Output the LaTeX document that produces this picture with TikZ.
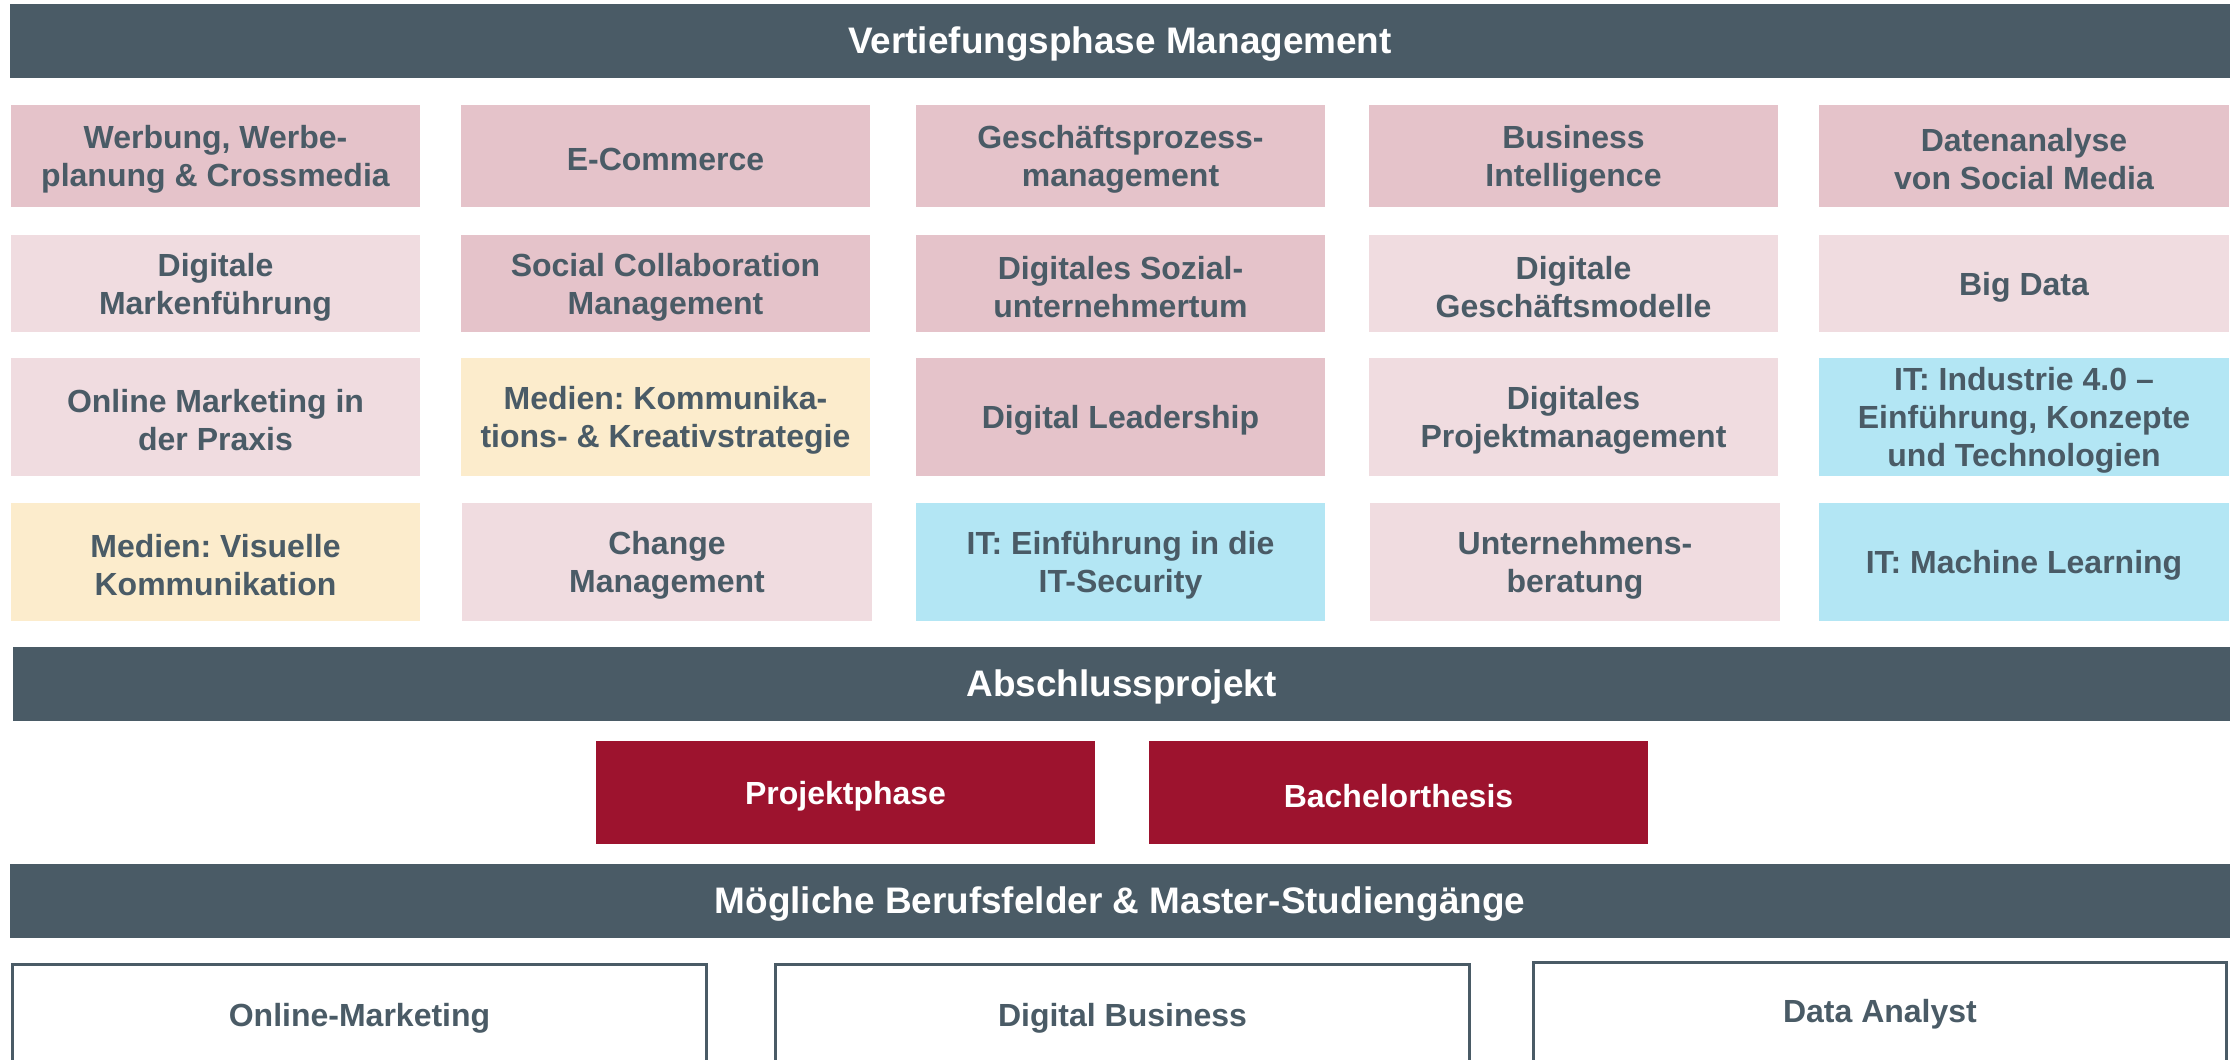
\documentclass[tikz,border=0pt]{standalone}
\usepackage{fontspec}
\setmainfont{Liberation Sans}
\frenchspacing
\definecolor{slate}{HTML}{4A5B66}
\definecolor{pinkD}{HTML}{E5C3CA}
\definecolor{pinkL}{HTML}{F0DCE0}
\definecolor{cream}{HTML}{FCECCC}
\definecolor{sky}{HTML}{B3E6F4}
\definecolor{crimson}{HTML}{9D132E}
\begin{document}
\begin{tikzpicture}[x=0.01cm,y=-0.01cm,
  bar/.style={fill=slate, inner sep=0pt, minimum height=0.74cm},
  bartext/.style={text=white, inner sep=0pt, font=\bfseries\fontsize{10.5pt}{12pt}\selectfont},
  tile/.style={inner sep=0pt, minimum width=4.09cm},
  tiletext/.style={inner sep=0pt, align=center, text=slate,
    font=\bfseries\fontsize{9.1pt}{10.8pt}\selectfont},
  rowa/.style={tile, minimum height=1.02cm},
  rowb/.style={tile, minimum height=0.97cm},
  rowc/.style={tile, minimum height=1.18cm},
  redbox/.style={fill=crimson, inner sep=0pt, minimum width=4.99cm, minimum height=1.03cm},
  redtext/.style={text=white, inner sep=0pt, font=\bfseries\fontsize{9.1pt}{10.8pt}\selectfont},
  outbox/.style={draw=slate, line width=0.03cm, fill=white, inner sep=0pt,
    minimum width=6.94cm, minimum height=1.6cm, anchor=north},
  lbl/.style={text=slate, inner sep=0pt, font=\bfseries\fontsize{9.1pt}{10.8pt}\selectfont}
]
\def\dy{-0.033cm}
\useasboundingbox (0,0) rectangle (2232,1059);
\clip (0,0) rectangle (2232,1059);

% header bars
\node[bar, minimum width=22.18cm] (hTop) at (1120,41) {};
\node[bar, minimum width=22.15cm] (hAbs) at (1121.5,684) {};
\node[bar, minimum width=22.18cm] (hBer) at (1120,901) {};
\node[bartext] (hTopT) at ([yshift=\dy]hTop.center) {Vertiefungsphase Management};
\node[bartext] (hAbsT) at ([yshift=\dy]hAbs.center) {Abschlussprojekt};
\node[bartext] (hBerT) at ([yshift=\dy]hBer.center) {Mögliche Berufsfelder \& Master-Studiengänge};

% row 1
\node[rowa, fill=pinkD] (r1a) at (215.5,156) {};
\node[rowa, fill=pinkD] (r1b) at (665.5,156) {};
\node[rowa, fill=pinkD] (r1c) at (1120.5,156) {};
\node[rowa, fill=pinkD] (r1d) at (1573.5,156) {};
\node[rowa, fill=pinkD] (r1e) at (2024,156) {};
\node[tiletext] (r1aT) at ([yshift=\dy]r1a.center) {Werbung, Werbe-\\planung \& Crossmedia};
\node[tiletext] (r1bT) at ([yshift=\dy]r1b.center) {E-Commerce};
\node[tiletext] (r1cT) at ([yshift=\dy]r1c.center) {Geschäftsprozess-\\management};
\node[tiletext] (r1dT) at ([yshift=\dy]r1d.center) {Business\\Intelligence};
\node[tiletext] (r1eT) at ([yshift=\dy]r1e.center) {Datenanalyse\\von Social Media};

% row 2
\node[rowb, fill=pinkL] (r2a) at (215.5,283.5) {};
\node[rowb, fill=pinkD] (r2b) at (665.5,283.5) {};
\node[rowb, fill=pinkD] (r2c) at (1120.5,283.5) {};
\node[rowb, fill=pinkL] (r2d) at (1573.5,283.5) {};
\node[rowb, fill=pinkL] (r2e) at (2024,283.5) {};
\node[tiletext] (r2aT) at ([yshift=\dy]r2a.center) {Digitale\\Markenführung};
\node[tiletext] (r2bT) at ([yshift=\dy]r2b.center) {Social Collaboration\\Management};
\node[tiletext] (r2cT) at ([yshift=\dy]r2c.center) {Digitales Sozial-\\unternehmertum};
\node[tiletext] (r2dT) at ([yshift=\dy]r2d.center) {Digitale\\Geschäftsmodelle};
\node[tiletext] (r2eT) at ([yshift=\dy]r2e.center) {Big Data};

% row 3
\node[rowc, fill=pinkL] (r3a) at (215.5,417) {};
\node[rowc, fill=cream] (r3b) at (665.5,417) {};
\node[rowc, fill=pinkD] (r3c) at (1120.5,417) {};
\node[rowc, fill=pinkL] (r3d) at (1573.5,417) {};
\node[rowc, fill=sky] (r3e) at (2024,417) {};
\node[tiletext] (r3aT) at ([yshift=\dy]r3a.center) {Online Marketing in\\der Praxis};
\node[tiletext] (r3bT) at ([yshift=\dy]r3b.center) {Medien: Kommunika-\\tions- \& Kreativstrategie};
\node[tiletext] (r3cT) at ([yshift=\dy]r3c.center) {Digital Leadership};
\node[tiletext] (r3dT) at ([yshift=\dy]r3d.center) {Digitales\\Projektmanagement};
\node[tiletext] (r3eT) at ([yshift=\dy]r3e.center) {IT: Industrie 4.0 --\\Einführung, Konzepte\\und Technologien};

% row 4
\node[rowc, fill=cream] (r4a) at (215.5,562) {};
\node[rowc, fill=pinkL] (r4b) at (667,562) {};
\node[rowc, fill=sky] (r4c) at (1120.5,562) {};
\node[rowc, fill=pinkL] (r4d) at (1575,562) {};
\node[rowc, fill=sky] (r4e) at (2024,562) {};
\node[tiletext] (r4aT) at ([yshift=\dy]r4a.center) {Medien: Visuelle\\Kommunikation};
\node[tiletext] (r4bT) at ([yshift=\dy]r4b.center) {Change\\Management};
\node[tiletext] (r4cT) at ([yshift=\dy]r4c.center) {IT: Einführung in die\\IT-Security};
\node[tiletext] (r4dT) at ([yshift=\dy]r4d.center) {Unternehmens-\\beratung};
\node[tiletext] (r4eT) at ([yshift=\dy]r4e.center) {IT: Machine Learning};

% Abschlussprojekt
\node[redbox] (pp) at (845.5,792.5) {};
\node[redbox] (bt) at (1398.5,792.5) {};
\node[redtext] (ppT) at ([yshift=\dy]pp.center) {Projektphase};
\node[redtext] (btT) at ([yshift=\dy]bt.center) {Bachelorthesis};

% Berufsfelder
\node[outbox] (ob1) at (359.5,962.5) {};
\node[outbox] (ob2) at (1122.5,962.5) {};
\node[outbox, minimum width=6.93cm] (ob3) at (1880,960.5) {};
\node[lbl] (t1) at (359.5,1018) {Online-Marketing};
\node[lbl] (t2) at (1122.5,1018) {Digital Business};
\node[lbl] (t3) at (1880,1014) {Data Analyst};
\end{tikzpicture}
\end{document}
